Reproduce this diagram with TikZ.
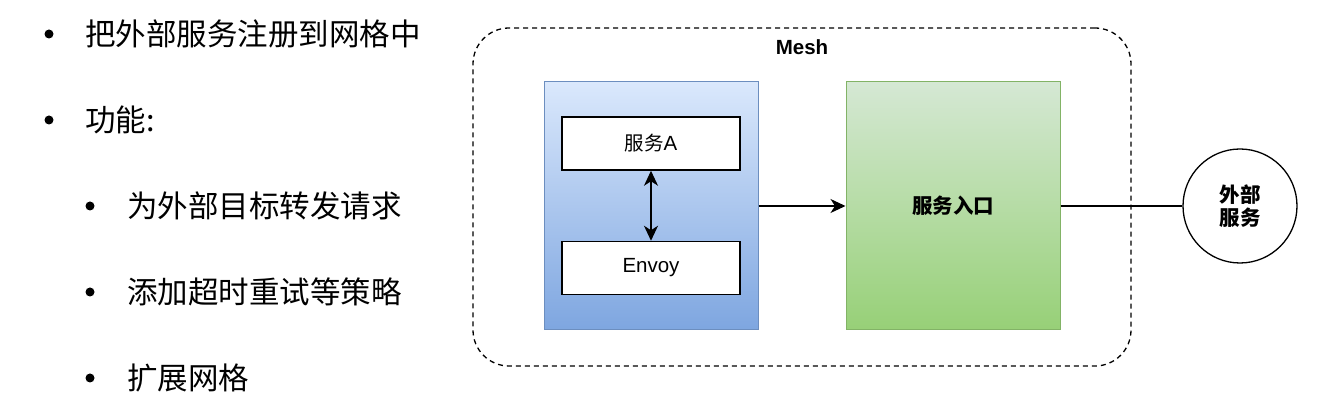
\documentclass[tikz,border=0pt]{standalone}
\usepackage{fontspec}
\setmainfont{Liberation Sans}
\newfontfamily\cjk{Noto Sans CJK SC}
\usetikzlibrary{arrows.meta}
\definecolor{blueT}{HTML}{DAE8FC}
\definecolor{blueB}{HTML}{7EA6E0}
\definecolor{blueD}{HTML}{6C8EBF}
\definecolor{greenT}{HTML}{D5E8D4}
\definecolor{greenB}{HTML}{97D077}
\definecolor{greenD}{HTML}{82B366}
\tikzset{
  bultext/.style={anchor=base west, inner sep=0pt, font=\cjk\fontsize{30.5}{36}\selectfont},
  buldot/.style={circle, fill=black, inner sep=0pt, minimum size=9pt},
  meshbox/.style={draw, line width=1.3pt, rounded corners=36pt, minimum width=658pt, minimum height=338pt, dash pattern=on 5pt off 4pt},
  bigbox/.style={draw, line width=1pt, minimum width=214pt, minimum height=248pt, inner sep=0pt},
  smallbox/.style={draw, fill=white, line width=1.5pt, minimum width=178pt, minimum height=53pt, inner sep=0pt, font=\fontsize{20.5}{24}\selectfont},
  conn/.style={line width=1.3pt},
  arrowhead/.tip={Stealth[length=15pt,width=14pt,inset=4.5pt]},
  tip/.style={-arrowhead},
}
\begin{document}
\begin{tikzpicture}[x=1pt,y=-1pt]
\useasboundingbox (0,0) rectangle (1339,411);
% bullet list
\node[buldot] (b1) at (49,34) {};
\node[bultext] (t1) at (85,46) {把外部服务注册到网格中};
\node[buldot] (b2) at (49,120) {};
\node[bultext] (t2) at (85,132) {功能:};
\node[buldot] (b3) at (90,206) {};
\node[bultext] (t3) at (127,218) {为外部目标转发请求};
\node[buldot] (b4) at (90,292) {};
\node[bultext] (t4) at (127,304) {添加超时重试等策略};
\node[buldot] (b5) at (90,378) {};
\node[bultext] (t5) at (127,390) {扩展网格};
% mesh
\node[meshbox] (mesh) at (802,197) {};
\node[font=\bfseries\fontsize{20.5}{24}\selectfont] (meshlabel) at (802,47) {Mesh};
\node[bigbox, draw=blueD, top color=blueT, bottom color=blueB] (blue) at (651,206) {};
\node[smallbox] (svcA) at (651,143.5) {{\cjk\fontsize{19.5}{24}\selectfont 服务}A};
\node[smallbox] (envoy) at (651,268) {Envoy};
\node[bigbox, draw=greenD, top color=greenT, bottom color=greenB, font=\cjk\bfseries\fontsize{20.5}{24}\selectfont] (entry) at (953,206) {服务入口};
\node[draw, circle, line width=1.3pt, minimum size=114pt, inner sep=0pt, align=center, font=\cjk\bfseries\fontsize{20.5}{23}\selectfont] (ext) at (1240,206) {外部\\服务};
\draw[conn, arrowhead-arrowhead] (svcA) -- (envoy);
\draw[conn, tip] (blue) -- (entry);
\draw[conn] (entry) -- (ext);
\end{tikzpicture}
\end{document}
